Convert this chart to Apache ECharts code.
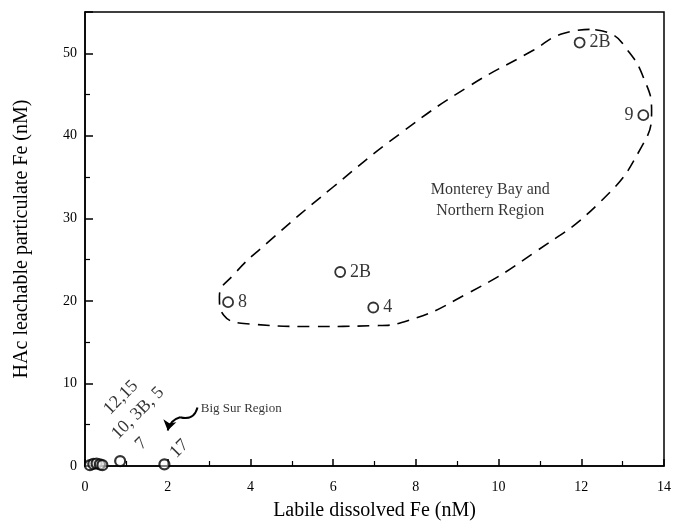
<!DOCTYPE html>
<html><head><meta charset="utf-8">
<script src="https://cdn.jsdelivr.net/npm/echarts@6/dist/echarts.min.js"></script>
<style>html,body{margin:0;padding:0;background:#fff}#c{width:676px;height:530px}</style>
</head><body><div id="c"></div>
<script>
// Big Sur Region points
const bigSurX = [0.12, 0.2, 0.28, 0.36, 0.42, 0.85, 1.92];
const bigSurY = [0.1, 0.25, 0.3, 0.2, 0.1, 0.6, 0.2];
// Monterey Bay and Northern Region points
const montX = [11.96, 13.5, 6.17, 3.46, 6.97];
const montY = [51.3, 42.5, 23.5, 19.85, 19.2];
const montLabels = ['2B', '9', '2B', '8', '4'];
const montLabelPos = ['right', 'left', 'right', 'right', 'right'];
// Rotated station labels for Big Sur cluster
const bsLabelText = ['12,15', '10, 3B, 5', '7', '17'];
const bsLabelX = [0.87, 1.28, 1.36, 2.28];
const bsLabelY = [8.3, 6.4, 2.7, 2.1];
// Dashed enclosure around Monterey group
const encX = [12.2, 11.5, 10.85, 9.25, 7.63, 6.0, 4.4, 3.6, 3.25, 3.35, 4.0, 5.5, 7.0, 7.8, 9.25, 10.85, 12.5, 13.45, 13.7, 13.5, 13.1, 12.7, 12.2];
const encY = [52.9, 52.3, 50.4, 45.9, 40.3, 33.8, 27.0, 23.2, 20.5, 18.3, 17.2, 16.9, 17.0, 17.6, 20.9, 25.8, 32.2, 38.6, 43.0, 47.1, 50.5, 52.4, 52.9];
// Arrow pointing at Big Sur cluster (wiggle part, then head part)
const arrowX = [2.72, 2.3, 2.0];
const arrowY = [7.1, 5.9, 4.3];
// Text annotations
const regionText = ['Monterey Bay and\nNorthern Region', 'Big Sur Region'];
const regionX = [9.8, 2.8];
const regionY = [32.2, 7.0];
const xTicks = [0, 2, 4, 6, 8, 10, 12, 14];
const yTicks = [0, 10, 20, 30, 40, 50];

const font = 'Liberation Serif';
const chart = echarts.init(document.getElementById('c'));
const zip = (a, b) => a.map((v, i) => [v, b[i]]);

chart.setOption({
  animation: false,
  backgroundColor: '#fff',
  grid: { left: 85, right: 12, top: 12, bottom: 64, show: true, borderColor: '#000', borderWidth: 1.5, backgroundColor: 'transparent' },
  xAxis: {
    type: 'value', min: 0, max: 14, interval: 2,
    name: 'Labile dissolved Fe (nM)', nameLocation: 'middle', nameGap: 35,
    nameTextStyle: { fontFamily: font, fontSize: 20, color: '#000' },
    axisLine: { lineStyle: { color: '#000', width: 1.5 } },
    axisTick: { inside: true, length: 7, lineStyle: { color: '#000', width: 1.5 } },
    minorTick: { show: true, splitNumber: 2, length: 5, lineStyle: { color: '#000', width: 1.2 } },
    axisLabel: { fontFamily: font, fontSize: 14, color: '#000', margin: 14, formatter: v => xTicks.includes(v) ? String(v) : '' },
    splitLine: { show: false }
  },
  yAxis: {
    type: 'value', min: 0, max: 55, interval: 10,
    name: 'HAc leachable particulate Fe (nM)', nameLocation: 'middle', nameGap: 53,
    nameTextStyle: { fontFamily: font, fontSize: 20, color: '#000' },
    axisLine: { lineStyle: { color: '#000', width: 1.5 } },
    axisTick: { inside: true, length: 8, lineStyle: { color: '#000', width: 1.5 } },
    minorTick: { show: true, splitNumber: 2, length: 5, lineStyle: { color: '#000', width: 1.2 } },
    axisLabel: { fontFamily: font, fontSize: 14, color: '#000', margin: 8, showMaxLabel: false, formatter: v => yTicks.includes(v) ? String(v) : '' },
    splitLine: { show: false }
  },
  series: [
    {
      type: 'line', data: zip(encX, encY), smooth: 0.5, symbol: 'none', silent: true,
      lineStyle: { color: '#000', width: 1.6, type: [12, 8] }, z: 2
    },
    {
      type: 'scatter', data: zip(bigSurX, bigSurY), symbol: 'circle', symbolSize: 10,
      itemStyle: { color: 'rgba(255,255,255,0.6)', borderColor: '#000', borderWidth: 2.2 }, z: 5
    },
    {
      type: 'scatter', symbol: 'circle', symbolSize: 10,
      data: montX.map((x, i) => ({ value: [x, montY[i]], label: { position: montLabelPos[i] } })),
      itemStyle: { color: '#fff', borderColor: '#000', borderWidth: 1.8 },
      label: { show: true, fontFamily: font, fontSize: 18, color: '#000', distance: 4, formatter: p => montLabels[p.dataIndex] }, z: 5
    },
    {
      type: 'scatter', symbolSize: 0, silent: true,
      data: zip(bsLabelX, bsLabelY),
      label: { show: true, position: 'inside', rotate: 45, align: 'center', verticalAlign: 'middle', fontFamily: font, fontSize: 18, color: '#000', formatter: p => bsLabelText[p.dataIndex] }, z: 6
    },
    {
      type: 'scatter', symbolSize: 0, silent: true,
      data: [{ value: [regionX[0], regionY[0]], label: { align: 'center', fontSize: 16, lineHeight: 21, formatter: regionText[0] } },
             { value: [regionX[1], regionY[1]], label: { align: 'left', fontSize: 13, formatter: regionText[1] } }],
      label: { show: true, position: 'inside', verticalAlign: 'middle', fontFamily: font, color: '#000' }, z: 6
    },
    {
      type: 'lines', coordinateSystem: 'cartesian2d', silent: true,
      symbol: ['none', 'none'],
      data: [{ coords: [[arrowX[0], arrowY[0]], [arrowX[1], arrowY[1]]] }],
      lineStyle: { color: '#000', width: 2, opacity: 1, curveness: 0.5 }, z: 6
    },
    {
      type: 'lines', coordinateSystem: 'cartesian2d', silent: true,
      symbol: ['none', 'arrow'], symbolSize: 10,
      data: [{ coords: [[arrowX[1], arrowY[1]], [arrowX[2], arrowY[2]]] }],
      lineStyle: { color: '#000', width: 2, opacity: 1, curveness: -0.3 }, z: 6
    }
  ]
});
</script></body></html>
